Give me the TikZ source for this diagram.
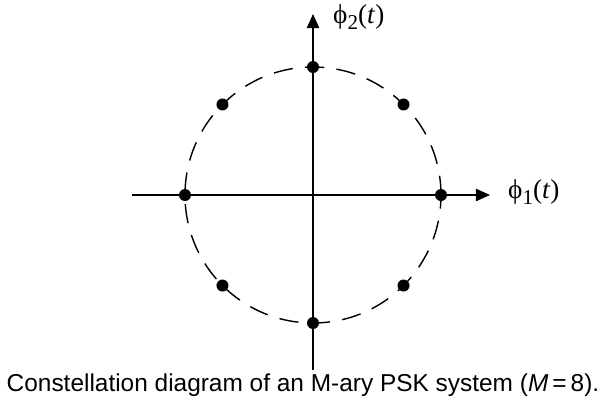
\documentclass[tikz,border=0pt]{standalone}
\usepackage{fontspec}
\setmainfont{Liberation Sans}
\newfontfamily\phifont{Liberation Serif}
\usetikzlibrary{arrows.meta}
\newcommand{\lowidx}[1]{\raisebox{-0.45ex}{\fontsize{12}{12}\selectfont #1}}
\tikzset{
  axis/.style={line width=0.8pt,-{Triangle[length=8pt,width=7pt]}},
  signal/.style={circle,fill=black,inner sep=0pt,minimum size=0.24cm},
  basislabel/.style={anchor=west,font=\fontsize{15.5}{17}\selectfont\phifont}
}
\begin{document}
\begin{tikzpicture}
  \useasboundingbox (-6.26,-4.46) rectangle (5.86,3.9);
  \coordinate (west) at (-3.62,0);
  \coordinate (east) at (3.54,0);
  \coordinate (south) at (0,-3.5);
  \coordinate (north) at (0,3.62);
  \draw[axis] (west) -- (east);
  \draw[axis] (south) -- (north);
  \draw[line width=0.8pt,dash pattern=on 11pt off 7pt] (0,0) circle (2.56);
  % signal points, M = 8
  \foreach \a in {0,45,...,315}
    \node[signal] (s\a) at (\a:2.56) {};
  \node[basislabel] (phi1) at (3.78,0.06) {ϕ\lowidx{1}(\textit{t})};
  \node[basislabel] (phi2) at (0.28,3.56) {ϕ\lowidx{2}(\textit{t})};
  \node[font=\fontsize{13.9}{16}\selectfont] (caption) at (-0.2,-3.8)
    {Constellation diagram of an M-ary PSK system (\textit{M}\,=\,8).};
\end{tikzpicture}
\end{document}
